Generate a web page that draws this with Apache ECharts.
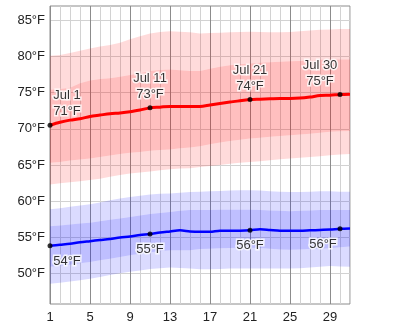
<!DOCTYPE html>
<html>
<head>
<meta charset="utf-8">
<script src="https://cdn.jsdelivr.net/npm/echarts@6/dist/echarts.min.js"></script>
<style>
  html, body { margin: 0; padding: 0; background: #fff; }
  #chart { width: 400px; height: 329px; }
</style>
</head>
<body>
<div id="chart"></div>
<script>
// July daily temperatures (°F): day of month, averages and percentile bands.
const days = [1,2,3,4,5,6,7,8,9,10,11,12,13,14,15,16,17,18,19,20,21,22,23,24,25,26,27,28,29,30,31];

const highAvg = [70.5,70.9,71.2,71.4,71.7,71.9,72.1,72.2,72.35,72.6,72.9,73.0,73.1,73.1,73.1,73.1,73.3,73.5,73.7,73.9,74.05,74.1,74.15,74.2,74.2,74.25,74.4,74.6,74.65,74.75,74.8];
const highP90 = [80.1,80.2,80.5,80.8,81.1,81.4,81.6,81.9,82.4,82.8,83.2,83.4,83.5,83.45,83.35,83.2,83.25,83.3,83.35,83.4,83.45,83.4,83.35,83.35,83.4,83.5,83.6,83.7,83.75,83.8,83.8];
const highP75 = [75.4,75.5,75.7,76.3,76.7,76.9,77.0,77.2,77.45,77.7,78.0,78.15,78.2,78.1,78.0,78.0,78.3,78.6,78.8,78.95,79.05,79.15,79.2,79.3,79.35,79.4,79.5,79.55,79.6,79.6,79.6];
const highP25 = [65.3,65.4,65.6,65.75,65.9,66.1,66.3,66.5,66.7,66.8,66.95,67.05,67.15,67.3,67.4,67.6,67.85,68.1,68.3,68.5,68.65,68.75,68.9,69.0,69.1,69.2,69.3,69.45,69.6,69.65,69.7];
const highP10 = [62.3,62.45,62.6,62.75,62.9,63.1,63.35,63.6,63.8,63.95,64.1,64.25,64.4,64.5,64.55,64.7,64.85,65.0,65.15,65.3,65.4,65.5,65.65,65.8,65.9,66.0,66.1,66.2,66.35,66.45,66.5];

const lowAvg = [53.8,53.95,54.1,54.3,54.45,54.6,54.75,54.95,55.1,55.3,55.45,55.65,55.8,55.95,55.8,55.75,55.75,55.9,55.9,55.9,55.95,56.1,56.0,55.9,55.9,55.9,55.95,56.0,56.05,56.15,56.2];
const lowP90 = [58.85,59.0,59.2,59.4,59.55,59.8,60.1,60.35,60.55,60.75,60.9,61.0,61.05,61.15,61.25,61.3,61.35,61.4,61.45,61.5,61.5,61.45,61.35,61.3,61.25,61.25,61.3,61.35,61.35,61.3,61.3];
const lowP75 = [56.5,56.6,56.75,56.9,57.0,57.2,57.4,57.6,57.8,58.0,58.2,58.35,58.5,58.65,58.75,58.75,58.75,58.8,58.8,58.8,58.8,58.75,58.7,58.65,58.6,58.65,58.7,58.75,58.75,58.75,58.75];
const lowP25 = [50.9,51.05,51.2,51.4,51.55,51.8,52.0,52.25,52.5,52.7,52.9,53.05,53.2,53.2,53.2,53.35,53.4,53.45,53.5,53.55,53.55,53.5,53.4,53.3,53.25,53.3,53.35,53.4,53.45,53.6,53.7];
const lowP10 = [48.55,48.7,48.85,49.05,49.25,49.5,49.75,50.0,50.2,50.4,50.6,50.7,50.8,50.75,50.65,50.55,50.55,50.6,50.65,50.65,50.65,50.65,50.65,50.65,50.65,50.7,50.8,50.9,51.0,50.95,50.9];

// Days that carry a value label
const labelDays = [1, 11, 21, 30];
const xTickLabels = [1, 5, 9, 13, 17, 21, 25, 29];
const yTickValues = [50, 55, 60, 65, 70, 75, 80, 85];
const monthName = 'Jul';

const FONT = '"Liberation Sans", Arial, sans-serif';

function pairs(arr) { return days.map((d, i) => [d, arr[i]]); }

// Filled region between two percentile curves, placed through the axes' scales.
function band(name, lower, upper, color) {
  return {
    type: 'custom', name: name, silent: true, clip: true, z: 1,
    data: [[days[0], lower[0]]],
    renderItem: function (params, api) {
      const pts = [];
      for (let i = 0; i < days.length; i++) pts.push(api.coord([days[i], upper[i]]));
      for (let i = days.length - 1; i >= 0; i--) pts.push(api.coord([days[i], lower[i]]));
      return { type: 'polygon', shape: { points: pts }, style: { fill: color, stroke: null } };
    }
  };
}

const redLight = 'rgba(255,0,0,0.14)';
const redDark = 'rgba(255,0,0,0.25)';
const blueLight = 'rgba(0,0,255,0.14)';
const blueDark = 'rgba(0,0,255,0.25)';

const labelText = {
  fontFamily: FONT, fontSize: 13, color: '#000', lineHeight: 16,
  textBorderColor: '#fff', textBorderWidth: 3
};

function highPoints() {
  const offs = { 1: [17, 0], 11: [0, 0], 21: [0, 0], 30: [-20, 0] };
  return labelDays.map(d => {
    const v = highAvg[d - 1];
    return {
      value: [d, v],
      label: Object.assign({
        show: true, position: 'top', distance: 3, offset: offs[d],
        formatter: monthName + ' ' + d + '\n' + Math.round(v) + '°F'
      }, labelText)
    };
  });
}

function lowPoints() {
  const offs = { 1: [17, 0], 11: [0, 0], 21: [0, 0], 30: [-17, 0] };
  return labelDays.map(d => {
    const v = lowAvg[d - 1];
    return {
      value: [d, v],
      label: Object.assign({
        show: true, position: 'bottom', distance: 5, offset: offs[d],
        formatter: Math.round(v) + '°F'
      }, labelText)
    };
  });
}

const chart = echarts.init(document.getElementById('chart'), null, { renderer: 'canvas' });

chart.setOption({
  animation: false,
  backgroundColor: '#fff',
  grid: {
    left: 50, top: 6, width: 300, height: 298,
    show: true, borderColor: '#8c8c8c', borderWidth: 1, backgroundColor: 'transparent'
  },
  xAxis: {
    type: 'value', min: 1, max: 31, interval: 1,
    axisLine: { show: false },
    axisTick: { show: false },
    axisLabel: {
      margin: 7, fontFamily: FONT, fontSize: 13, color: '#222',
      formatter: v => (xTickLabels.indexOf(v) >= 0 ? String(v) : '')
    },
    splitLine: {
      show: true,
      lineStyle: { color: ['#8c8c8c', '#d2d2d2', '#d2d2d2', '#d2d2d2'], width: 1 }
    }
  },
  yAxis: {
    type: 'value', min: 45.75, max: 87,
    axisLine: { show: false },
    axisTick: { show: false, customValues: yTickValues },
    axisLabel: {
      customValues: yTickValues, margin: 5,
      fontFamily: FONT, fontSize: 13, color: '#222',
      formatter: v => v + '°F'
    },
    splitLine: { show: true, lineStyle: { color: '#d2d2d2', width: 1 } }
  },
  series: [
    // Daily high: 10th–90th percentile (light) around 25th–75th (dark)
    band('high-10-25', highP10, highP25, redLight),
    band('high-25-75', highP25, highP75, redDark),
    band('high-75-90', highP75, highP90, redLight),
    // Daily low bands
    band('low-10-25', lowP10, lowP25, blueLight),
    band('low-25-75', lowP25, lowP75, blueDark),
    band('low-75-90', lowP75, lowP90, blueLight),
    {
      type: 'line', name: 'Average high', data: pairs(highAvg),
      symbol: 'none', smooth: 0.3, lineStyle: { color: '#ff0000', width: 3 }, z: 3
    },
    {
      type: 'line', name: 'Average low', data: pairs(lowAvg),
      symbol: 'none', smooth: 0.3, lineStyle: { color: '#0000ff', width: 2.5 }, z: 3
    },
    {
      type: 'scatter', name: 'high-labels', data: highPoints(),
      symbol: 'circle', symbolSize: 5, itemStyle: { color: '#000' }, z: 5
    },
    {
      type: 'scatter', name: 'low-labels', data: lowPoints(),
      symbol: 'circle', symbolSize: 5, itemStyle: { color: '#000' }, z: 5
    }
  ]
});
</script>
</body>
</html>
